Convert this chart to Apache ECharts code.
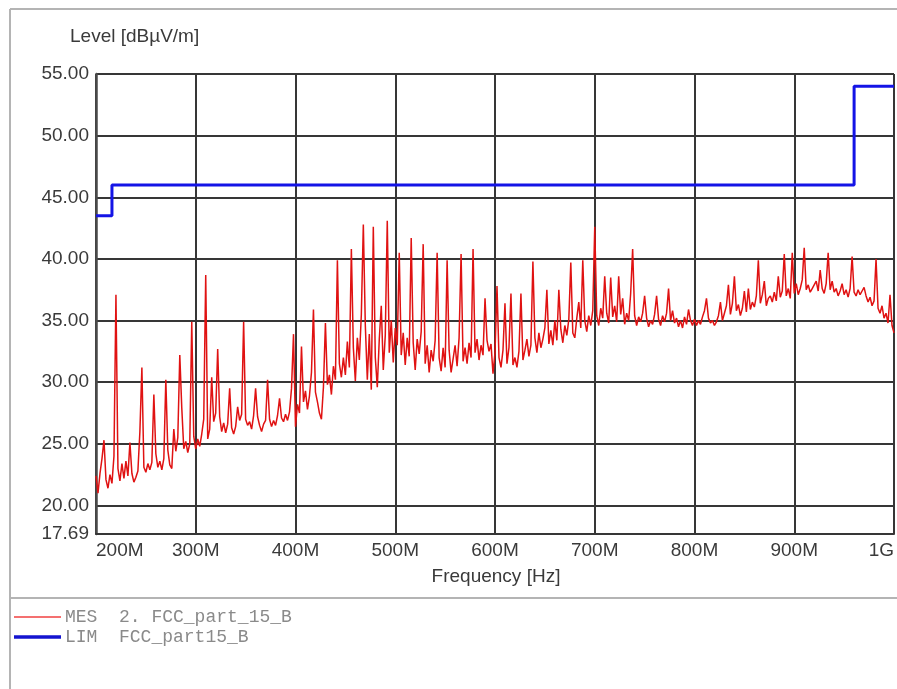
<!DOCTYPE html>
<html>
<head>
<meta charset="utf-8">
<script src="https://cdn.jsdelivr.net/npm/echarts@6/dist/echarts.min.js"></script>
<style>
html,body{margin:0;padding:0;background:#fff;}
#chart{width:897px;height:689px;}
</style>
</head>
<body>
<div id="chart"></div>
<script>
// Measurement sweep (MES): levels in dBuV/m, starting at 200 MHz, one reading every 2 MHz
const MES_START_MHZ = 200;
const MES_STEP_MHZ = 2;
const mesLevels = [
  22.4,21.0,22.6,23.8,25.3,22.1,21.4,22.5,21.8,24.0,37.1,23.0,22.0,23.4,22.2,23.6,22.4,25.1,22.6,21.9,22.3,22.8,26.0,31.2,23.1,
  22.7,23.4,22.9,23.5,29.0,24.2,23.1,23.6,22.9,23.8,30.2,24.5,23.3,23.0,26.2,24.4,25.5,32.2,27.9,24.6,25.2,24.3,25.0,34.9,25.6,
  24.6,25.4,24.8,25.8,27.0,38.7,25.4,26.2,30.4,26.8,27.5,32.7,27.2,26.0,26.7,25.9,26.6,29.5,26.3,25.8,26.4,28.0,26.9,27.4,34.9,
  27.0,26.5,26.8,26.2,27.3,29.5,27.2,26.5,26.0,26.6,26.9,30.2,27.0,26.4,26.9,26.5,27.3,28.7,27.1,26.8,27.4,26.9,27.6,29.5,33.9,
  26.4,28.2,27.5,32.9,28.4,29.3,27.8,28.9,30.8,35.9,29.2,28.4,27.5,27.0,29.6,34.8,29.8,30.6,29.0,31.3,30.2,39.9,31.5,30.4,32.0,
  30.6,33.3,31.2,40.8,32.8,30.1,33.6,31.8,35.5,42.8,34.6,30.2,33.9,29.4,42.6,32.0,29.6,33.5,36.2,31.0,33.8,43.1,32.4,35.0,31.6,
  34.4,33.0,40.5,32.2,34.0,31.4,33.6,32.1,41.7,33.2,31.0,33.5,32.3,34.1,41.2,31.5,33.0,30.8,32.6,31.7,33.4,40.5,32.0,30.9,32.8,
  31.2,39.9,32.6,30.8,31.9,33.0,31.3,33.6,40.4,31.7,32.8,31.5,33.2,32.0,40.8,32.4,33.5,31.8,33.0,32.2,36.8,33.4,32.5,33.1,30.7,
  32.4,37.8,32.0,31.2,32.6,36.4,31.5,32.8,37.2,31.4,32.0,31.2,32.5,37.2,31.8,32.6,33.5,32.1,33.0,39.8,33.6,32.4,34.0,32.8,33.5,
  34.4,37.5,33.1,34.2,33.0,35.0,33.4,37.5,34.3,33.2,34.6,33.8,35.1,39.7,34.0,33.6,35.2,36.5,34.4,39.9,35.0,34.1,35.4,34.6,35.8,
  42.6,35.4,34.6,36.0,35.2,38.6,35.6,34.8,38.5,35.3,36.2,34.9,38.6,35.5,36.8,34.7,35.6,35.0,37.2,40.8,35.4,34.6,35.3,34.9,35.6,
  37.0,35.2,34.5,35.0,34.7,35.5,37.0,35.1,34.6,35.4,34.9,35.6,37.6,35.0,35.8,34.8,35.2,34.5,35.0,34.4,35.3,34.7,35.9,35.0,34.6,
  35.1,34.6,35.0,34.7,35.3,35.8,36.8,35.2,34.8,35.0,34.6,34.9,35.4,36.5,35.0,35.6,36.2,37.9,35.5,36.4,38.6,35.8,36.3,35.4,36.0,
  37.4,35.7,37.6,35.9,36.5,36.1,37.0,39.9,36.4,37.1,38.2,36.2,36.8,37.0,36.5,37.3,36.6,38.6,36.9,37.4,40.4,37.0,37.6,36.8,40.5,
  37.2,38.0,37.1,37.6,38.3,40.9,37.5,37.9,37.3,37.6,37.5,38.2,37.4,39.1,37.6,37.2,38.0,40.5,37.5,38.2,37.3,37.6,37.0,37.4,38.0,
  37.1,37.5,36.9,37.6,40.2,37.3,37.0,37.5,37.1,37.4,37.7,37.0,36.5,36.9,36.2,36.6,40.0,36.0,35.6,36.2,35.2,35.6,34.8,37.1,34.6,
  34.0
];

// Limit line (LIM, FCC part 15 B): breakpoints in MHz and level from that frequency on
const limFreqs = [200, 216, 960, 1000];
const limLevels = [43.5, 46.0, 54.0, 54.0];

// Axis ranges / labels
const xMin = 200, xMax = 1000, xStep = 100;
const yMin = 17.69, yMax = 55;

const yAxisTitle = 'Level [dBµV/m]';
const xAxisTitle = 'Frequency [Hz]';
const legendNames = ['MES  2. FCC_part_15_B', 'LIM  FCC_part15_B'];

const mesData = mesLevels.map((v, i) => [MES_START_MHZ + i * MES_STEP_MHZ, v]);
const limData = limFreqs.map((f, i) => [f, limLevels[i]]);

const FONT = '"Liberation Sans", Arial, sans-serif';
const TXT = '#3a3a3a';
const GRID = '#363636';
const FRAME = '#b4b4b4';

const chart = echarts.init(document.getElementById('chart'), null, {renderer: 'canvas'});
chart.setOption({
  backgroundColor: '#ffffff',
  animation: false,
  grid: {left: 96, right: 1, top: 74, bottom: 155, containLabel: false},
  xAxis: {
    type: 'value', min: xMin, max: xMax, interval: xStep,
    axisLine: {show: true, lineStyle: {color: GRID, width: 2}},
    axisTick: {show: false},
    splitLine: {show: true, lineStyle: {color: GRID, width: 2}},
    axisLabel: {
      color: TXT, fontFamily: FONT, fontSize: 19, margin: 7,
      alignMinLabel: 'left', alignMaxLabel: 'right',
      formatter: v => v >= 1000 ? (v / 1000) + 'G' : v + 'M'
    }
  },
  yAxis: {
    type: 'value', min: yMin, max: yMax, splitNumber: 7,
    axisLine: {show: true, lineStyle: {color: '#4a4a4a', width: 2.5}},
    axisTick: {show: false},
    splitLine: {show: true, lineStyle: {color: GRID, width: 2}},
    axisLabel: {
      color: TXT, fontFamily: FONT, fontSize: 19, margin: 7,
      formatter: v => v.toFixed(2)
    }
  },
  series: [
    {
      name: 'MES', type: 'line', data: mesData, showSymbol: false, symbol: 'none',
      lineStyle: {color: '#e01212', width: 1.5}, z: 3
    },
    {
      name: 'LIM', type: 'line', data: limData, step: 'end', showSymbol: false, symbol: 'none',
      lineStyle: {color: '#1414e6', width: 3}, z: 4
    }
  ],
  graphic: [
    {type: 'line', shape: {x1: 10, y1: 9, x2: 897, y2: 9}, style: {stroke: FRAME, lineWidth: 2}},
    {type: 'line', shape: {x1: 10, y1: 9, x2: 10, y2: 689}, style: {stroke: FRAME, lineWidth: 2}},
    {type: 'line', shape: {x1: 10, y1: 598, x2: 897, y2: 598}, style: {stroke: FRAME, lineWidth: 2}},
    {type: 'text', left: 70, top: 27, style: {text: yAxisTitle, fill: TXT, font: '19px ' + FONT}},
    {type: 'text', x: 496, y: 577, style: {text: xAxisTitle, fill: TXT, font: '19px ' + FONT, textAlign: 'center', textVerticalAlign: 'middle'}},
    {type: 'line', shape: {x1: 14, y1: 617, x2: 61, y2: 617}, style: {stroke: '#f04040', lineWidth: 1.5}},
    {type: 'line', shape: {x1: 14, y1: 637, x2: 61, y2: 637}, style: {stroke: '#1414d0', lineWidth: 3.5}},
    {type: 'text', x: 65, y: 617, style: {text: legendNames[0], fill: '#8a8a8a', font: '18px "Liberation Mono", "Courier New", monospace', textVerticalAlign: 'middle'}},
    {type: 'text', x: 65, y: 637, style: {text: legendNames[1], fill: '#8a8a8a', font: '18px "Liberation Mono", "Courier New", monospace', textVerticalAlign: 'middle'}}
  ]
});
</script>
</body>
</html>
